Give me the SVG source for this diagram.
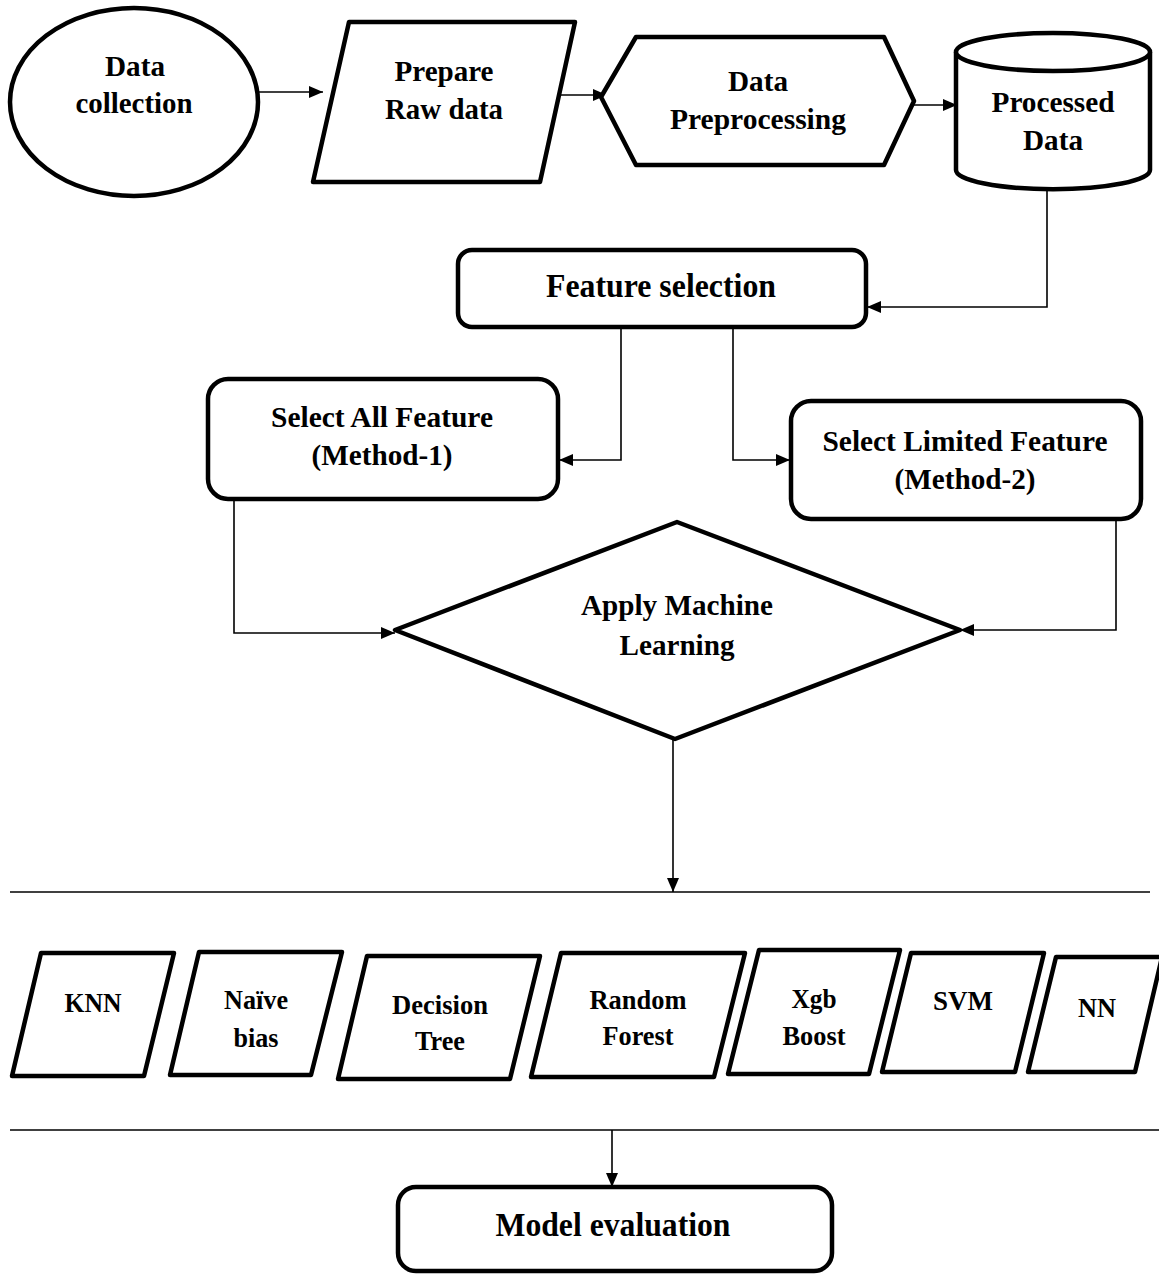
<svg xmlns="http://www.w3.org/2000/svg" width="1159" height="1274" viewBox="0 0 1159 1274">
<defs>
<marker id="ah" markerUnits="userSpaceOnUse" markerWidth="14" markerHeight="12" refX="14" refY="6" orient="auto">
<path d="M0,0 L14,6 L0,12 Z" fill="#000"/>
</marker>
<style>
.s{fill:#fff;stroke:#000;stroke-width:4.5;stroke-linejoin:round}
.c{fill:none;stroke:#000;stroke-width:1.6}
.a{marker-end:url(#ah)}
text{font-family:"Liberation Serif","Times New Roman",serif;font-weight:bold;fill:#000;text-anchor:middle}
.t{font-size:30px}
.b{font-size:33px}
.p{font-size:27px}
</style>
</defs>
<rect width="1159" height="1274" fill="#fff"/>
<g id="connectors">
<path class="c a" d="M259,92 H323"/>
<path class="c a" d="M540,95 H607"/>
<path class="c a" d="M914,105 H957"/>
<path class="c a" d="M1047,189 V307 H867"/>
<path class="c a" d="M621,328 V460 H559"/>
<path class="c a" d="M733,328 V460 H790"/>
<path class="c a" d="M234,500 V633 H395"/>
<path class="c" d="M971,514 H1116" stroke="#444"/>
<path class="c a" d="M1116,514 V630 H960"/>
<path class="c a" d="M673,739 V892"/>
<path class="c" d="M10,892 H1150"/>
<path class="c" d="M10,1130 H1159"/>
<path class="c a" d="M612,1130 V1187"/>
</g>
<g id="data-collection">
<ellipse class="s" cx="134" cy="102" rx="124" ry="94"/>
<text class="t" x="135" y="76" textLength="60" lengthAdjust="spacingAndGlyphs">Data</text>
<text class="t" x="134" y="113" textLength="117" lengthAdjust="spacingAndGlyphs">collection</text>
</g>
<g id="prepare-raw-data">
<polygon class="s" points="349,22 575,22 540,182 313,182"/>
<text class="t" x="444" y="81" textLength="99" lengthAdjust="spacingAndGlyphs">Prepare</text>
<text class="t" x="444" y="119" textLength="118" lengthAdjust="spacingAndGlyphs">Raw data</text>
</g>
<g id="data-preprocessing">
<polygon class="s" points="601,97 636,37 884,37 914,101 884,165 636,165"/>
<text class="t" x="758" y="91" textLength="60" lengthAdjust="spacingAndGlyphs">Data</text>
<text class="t" x="758" y="129" textLength="176" lengthAdjust="spacingAndGlyphs">Preprocessing</text>
</g>
<g id="processed-data">
<path class="s" d="M956,52 V170 A96,19 0 0 0 1150,170 V52 A97,19 0 0 0 956,52 Z"/>
<path class="s" d="M956,52 A97,19 0 0 0 1150,52"/>
<text class="t" x="1053" y="112" textLength="123" lengthAdjust="spacingAndGlyphs">Processed</text>
<text class="t" x="1053" y="150" textLength="60" lengthAdjust="spacingAndGlyphs">Data</text>
</g>
<g id="feature-selection">
<rect class="s" x="458" y="250" width="408" height="77" rx="14"/>
<text class="b" x="661" y="297" textLength="230" lengthAdjust="spacingAndGlyphs">Feature selection</text>
</g>
<g id="select-all">
<rect class="s" x="208" y="379" width="350" height="120" rx="20"/>
<text class="t" x="382" y="427" textLength="222" lengthAdjust="spacingAndGlyphs">Select All Feature</text>
<text class="t" x="382" y="465" textLength="141" lengthAdjust="spacingAndGlyphs">(Method-1)</text>
</g>
<g id="select-limited">
<rect class="s" x="791" y="401" width="350" height="118" rx="20"/>
<text class="t" x="965" y="451" textLength="285" lengthAdjust="spacingAndGlyphs">Select Limited Feature</text>
<text class="t" x="965" y="489" textLength="141" lengthAdjust="spacingAndGlyphs">(Method-2)</text>
</g>
<g id="apply-ml">
<polygon class="s" points="395,630 677,522 960,630 675,739"/>
<text class="t" x="677" y="615" textLength="192" lengthAdjust="spacingAndGlyphs">Apply Machine</text>
<text class="t" x="677" y="655" textLength="115" lengthAdjust="spacingAndGlyphs">Learning</text>
</g>
<g id="knn">
<polygon class="s" points="41,953 174,953 144,1076 12,1076"/>
<text class="p" x="93" y="1012" textLength="57" lengthAdjust="spacingAndGlyphs">KNN</text>
</g>
<g id="naive-bias">
<polygon class="s" points="199,952 342,952 311,1075 170,1075"/>
<text class="p" x="256" y="1009" textLength="64" lengthAdjust="spacingAndGlyphs">Naïve</text>
<text class="p" x="256" y="1047" textLength="45" lengthAdjust="spacingAndGlyphs">bias</text>
</g>
<g id="decision-tree">
<polygon class="s" points="367,956 540,956 510,1079 338,1079"/>
<text class="p" x="440" y="1014" textLength="96" lengthAdjust="spacingAndGlyphs">Decision</text>
<text class="p" x="440" y="1050" textLength="50" lengthAdjust="spacingAndGlyphs">Tree</text>
</g>
<g id="random-forest">
<polygon class="s" points="561,953 745,953 714,1077 531,1077"/>
<text class="p" x="638" y="1009" textLength="97" lengthAdjust="spacingAndGlyphs">Random</text>
<text class="p" x="638" y="1045" textLength="71" lengthAdjust="spacingAndGlyphs">Forest</text>
</g>
<g id="xgb-boost">
<polygon class="s" points="759,950 900,950 869,1074 728,1074"/>
<text class="p" x="814" y="1008" textLength="45" lengthAdjust="spacingAndGlyphs">Xgb</text>
<text class="p" x="814" y="1045" textLength="63" lengthAdjust="spacingAndGlyphs">Boost</text>
</g>
<g id="svm">
<polygon class="s" points="911,953 1044,953 1015,1072 882,1072"/>
<text class="p" x="963" y="1010" textLength="60" lengthAdjust="spacingAndGlyphs">SVM</text>
</g>
<g id="nn">
<polygon class="s" points="1056,957 1162,957 1135,1072 1028,1072"/>
<text class="p" x="1097" y="1017" textLength="38" lengthAdjust="spacingAndGlyphs">NN</text>
</g>
<g id="model-evaluation">
<rect class="s" x="398" y="1187" width="434" height="84" rx="18"/>
<text class="b" x="613" y="1236" textLength="235" lengthAdjust="spacingAndGlyphs">Model evaluation</text>
</g>
</svg>
